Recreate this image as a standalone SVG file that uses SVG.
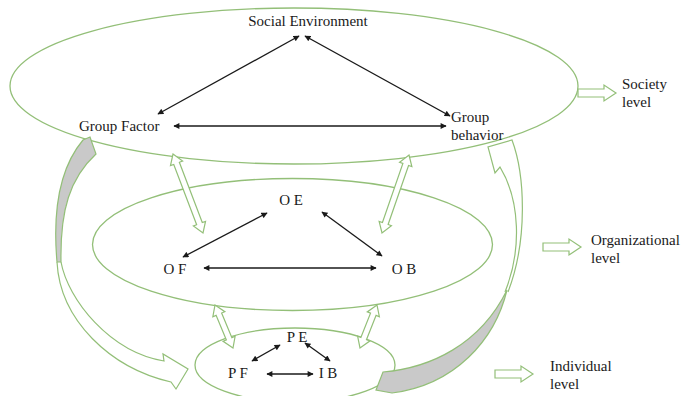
<svg xmlns="http://www.w3.org/2000/svg" width="683" height="396" viewBox="0 0 683 396">
<defs>
<style>
.ell{fill:none;stroke:#93bf78;stroke-width:1.3}
.blk{fill:#fff;stroke:#93bf78;stroke-width:1.2;stroke-linejoin:miter}
.crv{fill:none;stroke:#93bf78;stroke-width:1.2}
.gry{fill:#c9c9c9;stroke:#93bf78;stroke-width:1.2}
.t{font-family:"Liberation Serif","Times New Roman",serif;font-size:15px;fill:#1a1a1a}
.c{text-anchor:middle}
.ar{stroke:#1a1a1a;stroke-width:1.3;fill:none;marker-start:url(#ah);marker-end:url(#ah)}
</style>
<marker id="ah" viewBox="0 0 10 10" refX="9" refY="5" markerWidth="7" markerHeight="6" markerUnits="userSpaceOnUse" orient="auto-start-reverse">
<path d="M0,0 L10,5 L0,10 Z" fill="#1a1a1a"/>
</marker>
</defs>
<rect width="683" height="396" fill="#fff"/>

<g id="society-level">
<ellipse class="ell" cx="294" cy="86" rx="284" ry="78"/>
</g>
<g id="organizational-level">
<ellipse class="ell" cx="292.5" cy="244.5" rx="200" ry="66"/>
</g>
<g id="individual-level">
<ellipse class="ell" cx="295" cy="365" rx="100" ry="37"/>
</g>

<g id="block-arrows">
<path class="blk" transform="translate(173,154) rotate(69.2)" d="M0,0 L10,-6.5 L10,-3 L74.5,-3 L74.5,-6.5 L84.5,0 L74.5,6.5 L74.5,3 L10,3 L10,6.5 Z"/>
<path class="blk" transform="translate(409,155) rotate(109.1)" d="M0,0 L10,-6.5 L10,-3 L72.5,-3 L72.5,-6.5 L82.5,0 L72.5,6.5 L72.5,3 L10,3 L10,6.5 Z"/>
<path class="blk" transform="translate(215,305) rotate(67.3)" d="M0,0 L10,-6.5 L10,-3 L36.6,-3 L36.6,-6.5 L46.6,0 L36.6,6.5 L36.6,3 L10,3 L10,6.5 Z"/>
<path class="blk" transform="translate(377,305) rotate(111.6)" d="M0,0 L10,-6.5 L10,-3 L36.2,-3 L36.2,-6.5 L46.2,0 L36.2,6.5 L36.2,3 L10,3 L10,6.5 Z"/>
</g>

<g id="curved-arrow-left">
<path class="gry" d="M83,140 C62,165 52,205 57,262 L61,262 C60,210 70,178 96,154 L90,137 Z"/>
<path class="crv" d="M57,262 C60,320 110,368 171,382 L176,389 L188,369 L163,354 L164,361 C110,352 68,300 61,262"/>
</g>

<g id="curved-arrow-right">
<path class="gry" d="M383,372 C430,368 480,345 507,290 C495,340 455,385 392,393 L376,390 Z"/>
<path class="crv" d="M505,292 C522,250 520,200 500,167 L495,173 L488,147 L512,140 C525,175 528,240 508,292"/>
</g>

<g id="level-arrows">
<path class="blk" d="M578,89 L604,89 L604,85 L616,93 L604,101 L604,97 L578,97 Z"/>
<path class="blk" d="M543,243 L569,243 L569,239 L581,247 L569,255 L569,251 L543,251 Z"/>
<path class="blk" d="M495,370 L521,370 L521,366 L533,374 L521,382 L521,378 L495,378 Z"/>
</g>

<g id="connectors">
<line class="ar" x1="174" y1="126" x2="446" y2="126"/>
<line class="ar" x1="299" y1="36" x2="158" y2="114"/>
<line class="ar" x1="305" y1="36" x2="450" y2="116"/>
<line class="ar" x1="267" y1="213" x2="183" y2="257"/>
<line class="ar" x1="322" y1="212" x2="382" y2="256"/>
<line class="ar" x1="204" y1="268" x2="376" y2="268"/>
<line class="ar" x1="280" y1="345" x2="252" y2="361"/>
<line class="ar" x1="305" y1="343" x2="330" y2="361"/>
<line class="ar" x1="267" y1="374" x2="313" y2="374"/>
</g>

<g id="n-social-environment"><text class="t c" x="308" y="26">Social Environment</text></g>
<g id="n-group-factor"><text class="t" x="79" y="131">Group Factor</text></g>
<g id="n-group-behavior"><text class="t" x="451" y="122">Group</text><text class="t" x="451" y="140">behavior</text></g>
<g id="n-oe"><text class="t c" x="291" y="205">O E</text></g>
<g id="n-of"><text class="t c" x="175" y="274">O F</text></g>
<g id="n-ob"><text class="t c" x="404" y="274">O B</text></g>
<g id="n-pe"><text class="t c" x="297" y="342">P E</text></g>
<g id="n-pf"><text class="t c" x="238" y="378">P F</text></g>
<g id="n-ib"><text class="t c" x="328" y="378">I B</text></g>
<g id="label-society"><text class="t" x="622" y="89">Society</text><text class="t" x="622" y="107">level</text></g>
<g id="label-organizational"><text class="t" x="591" y="245">Organizational</text><text class="t" x="591" y="263">level</text></g>
<g id="label-individual"><text class="t" x="550" y="371">Individual</text><text class="t" x="550" y="389">level</text></g>
</svg>
